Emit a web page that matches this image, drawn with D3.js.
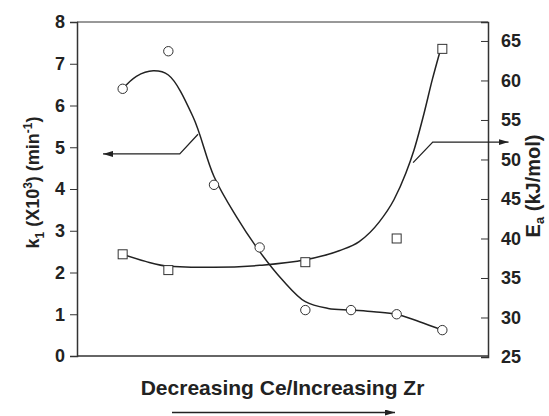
<!DOCTYPE html>
<html><head><meta charset="utf-8">
<script src="https://cdn.jsdelivr.net/npm/d3@7"></script>
<style>body{margin:0;background:#fff}svg{display:block}text{font-family:"Liberation Sans",Arial,Helvetica,sans-serif;font-weight:bold;fill:#222}</style>
</head><body><svg id="c" width="549" height="416"></svg>
<script>
// Data
const kX = [1,2,3,4,5,6,7,8];
const kValues = [6.4,7.3,4.1,2.6,1.1,1.1,1.0,0.62];
const eaX = [1,2,5,7,8];
const eaValues = [38,36,37,40,64];
// fitted curves
const kFitX = [1,1.3,1.67,2,2.54,3,3.49,4,4.5,5,5.5,6,6.5,7,7.5,8];
const kFitY = [6.4,6.7,6.83,6.73,5.73,4.3,3.34,2.5,1.82,1.3,1.14,1.1,1.06,1.0,0.82,0.62];
const eaFitX = [1,1.5,2,3,4,5,5.74,6.18,6.62,6.94,7.2,7.38,7.6,7.78,7.96];
const eaFitY = [38,37.1,36.5,36.35,36.6,37.3,38.45,39.6,42.1,44.9,48.25,51.2,55.85,60.1,63.9];
const leftTicks = [0,1,2,3,4,5,6,7,8];
const rightTicks = [25,30,35,40,45,50,55,60,65];
const xLabel = "Decreasing Ce/Increasing Zr";

const svg = d3.select("#c");
const L=77,R=488,T=22,B=356;
const x = d3.scaleLinear().domain([0,9]).range([L,R]);
const yL = d3.scaleLinear().domain([0,8]).range([B,T]);
const yR = d3.scaleLinear().domain([25,67.4]).range([B+1,T]);

svg.append("defs").append("marker").attr("id","ah").attr("viewBox","0 0 10 6")
  .attr("refX",10).attr("refY",3).attr("markerWidth",10).attr("markerHeight",6)
  .attr("markerUnits","userSpaceOnUse").attr("orient","auto")
  .append("path").attr("d","M0,0L10,3L0,6Z").attr("fill","#222");

// frame
svg.append("line").attr("x1",L).attr("x2",R).attr("y1",T).attr("y2",T).attr("stroke","#333").attr("stroke-width",1);
svg.append("line").attr("x1",L).attr("x2",R).attr("y1",B).attr("y2",B).attr("stroke","#333").attr("stroke-width",1.5);

// left axis
const gl = svg.append("g").attr("transform",`translate(${L},0)`);
gl.call(d3.axisLeft(yL).tickValues(d3.range(0,8.01,0.5)).tickSize(6).tickFormat(""));
gl.call(d3.axisLeft(yL).tickValues(leftTicks).tickSize(7).tickPadding(5).tickFormat(d3.format("d")));
gl.selectAll(".domain").attr("stroke","#333").attr("stroke-width",1.5);
gl.selectAll("line").attr("stroke","#333");
gl.selectAll("text").style("font-size","18px").attr("fill","#222");

// right axis (ticks inward)
const gr = svg.append("g").attr("transform",`translate(${R},0)`);
gr.call(d3.axisRight(yR).tickValues(d3.range(25,67,2.5)).tickSize(-6).tickFormat(""));
gr.call(d3.axisRight(yR).tickValues(rightTicks).tickSize(-7).tickPadding(13).tickFormat(d3.format("d")));
gr.selectAll(".domain").attr("stroke","#333").attr("stroke-width",1.5);
gr.selectAll("line").attr("stroke","#333");
gr.selectAll("text").style("font-size","18px").attr("fill","#222");

// curves
const lineK = d3.line().x(d=>x(d[0])).y(d=>yL(d[1])).curve(d3.curveCatmullRom.alpha(0.5));
svg.append("path").attr("d",lineK(d3.zip(kFitX,kFitY))).attr("fill","none").attr("stroke","#222").attr("stroke-width",1.5);
const lineE = d3.line().x(d=>x(d[0])).y(d=>yR(d[1])).curve(d3.curveMonotoneX);
svg.append("path").attr("d",lineE(d3.zip(eaFitX,eaFitY))).attr("fill","none").attr("stroke","#222").attr("stroke-width",1.5);

// markers
svg.selectAll("circle.k").data(d3.zip(kX,kValues)).join("circle").attr("class","k")
  .attr("cx",d=>x(d[0])).attr("cy",d=>yL(d[1])).attr("r",4.7)
  .attr("fill","#fff").attr("stroke","#333").attr("stroke-width",1);
svg.selectAll("rect.e").data(d3.zip(eaX,eaValues)).join("rect").attr("class","e")
  .attr("x",d=>x(d[0])-4.5).attr("y",d=>yR(d[1])-4.5).attr("width",9).attr("height",9)
  .attr("fill","#fff").attr("stroke","#333").attr("stroke-width",1);

// annotation arrows
const pl = d3.line();
svg.append("path").attr("d",pl([[x(2.65),yL(5.31)],[x(2.25),yL(4.84)],[x(0.57),yL(4.84)]]))
  .attr("fill","none").attr("stroke","#222").attr("stroke-width",1.3).attr("marker-end","url(#ah)");
svg.append("path").attr("d",pl([[x(7.36),yR(49.6)],[x(7.79),yR(52.2)],[x(9.45),yR(52.2)]]))
  .attr("fill","none").attr("stroke","#222").attr("stroke-width",1.3).attr("marker-end","url(#ah)");

// axis titles
svg.append("text").attr("x",282.5).attr("y",395).attr("text-anchor","middle").style("font-size","21px").text(xLabel);
svg.append("path").attr("d",pl([[172,412.5],[395,412.5]])).attr("stroke","#222").attr("stroke-width",1.5).attr("marker-end","url(#ah)");

const lt = svg.append("text").attr("transform","translate(39,182.5) rotate(-90)").attr("text-anchor","middle").style("font-size","18px");
lt.append("tspan").text("k");
lt.append("tspan").attr("dy",5).style("font-size","12px").text("1");
lt.append("tspan").attr("dy",-5).text(" (X10");
lt.append("tspan").attr("dy",-7).style("font-size","12px").text("3");
lt.append("tspan").attr("dy",7).text(") (min");
lt.append("tspan").attr("dy",-7).style("font-size","12px").text("-1");
lt.append("tspan").attr("dy",7).text(")");

const rt = svg.append("text").attr("transform","translate(540,186) rotate(-90)").attr("text-anchor","middle").style("font-size","20px");
rt.append("tspan").text("E");
rt.append("tspan").attr("dy",4).style("font-size","13px").text("a");
rt.append("tspan").attr("dy",-4).text(" (kJ/mol)");
</script></body></html>
